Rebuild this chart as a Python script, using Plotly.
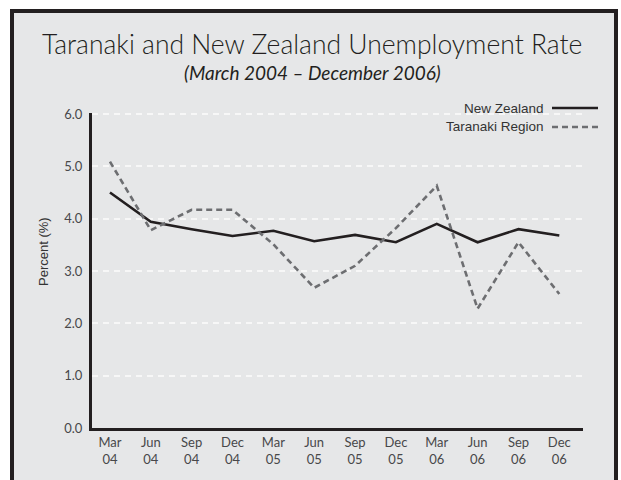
import plotly.graph_objects as go

categories = ["Mar<br>04", "Jun<br>04", "Sep<br>04", "Dec<br>04",
              "Mar<br>05", "Jun<br>05", "Sep<br>05", "Dec<br>05",
              "Mar<br>06", "Jun<br>06", "Sep<br>06", "Dec<br>06"]
new_zealand = [4.50, 3.94, 3.80, 3.67, 3.77, 3.57, 3.69, 3.55, 3.90, 3.55, 3.80, 3.68]
taranaki = [5.09, 3.78, 4.17, 4.17, 3.51, 2.68, 3.10, 3.82, 4.63, 2.28, 3.55, 2.56]
y_ticks = [0, 1, 2, 3, 4, 5, 6]
y_labels = ["0.0", "1.0", "2.0", "3.0", "4.0", "5.0", "6.0"]

x_idx = list(range(len(categories)))

DARK = "#231f20"
GREY = "#6d6e71"
TXT = "#48484a"
BG = "#e6e7e8"

# pixel helpers for layout (plot area 92..583 x, 113..428 y)
L, R, T, B = 92, 583, 113, 428
def px(x):
    return (x - L) / (R - L)
def py(y):
    return (B - y) / (B - T)

fig = go.Figure()
fig.add_trace(go.Scatter(x=x_idx, y=new_zealand, mode="lines", name="New Zealand",
                         line=dict(color=DARK, width=2.6), showlegend=False))
fig.add_trace(go.Scatter(x=x_idx, y=taranaki, mode="lines", name="Taranaki Region",
                         line=dict(color=GREY, width=2.6, dash="6px,4px"), showlegend=False))

shapes = [
    dict(type="rect", xref="paper", yref="paper", x0=px(12), x1=px(616), y0=py(490), y1=py(11),
         fillcolor=BG, line=dict(color=DARK, width=4), layer="below"),
    dict(type="line", xref="paper", yref="paper", x0=px(552), x1=px(598), y0=py(108), y1=py(108),
         line=dict(color=DARK, width=2.6)),
    dict(type="line", xref="paper", yref="paper", x0=px(552), x1=px(598), y0=py(127), y1=py(127),
         line=dict(color=GREY, width=2.6, dash="6px,4px")),
]

annotations = [
    dict(text="Taranaki and New Zealand Unemployment Rate", xref="paper", yref="paper",
         x=px(312), y=py(44), xanchor="center", yanchor="middle", showarrow=False,
         font=dict(family="Lato", size=26.5, color=DARK, weight=300)),
    dict(text="<i>(March 2004 – December 2006)</i>", xref="paper", yref="paper",
         x=px(312), y=py(72), xanchor="center", yanchor="middle", showarrow=False,
         font=dict(family="Lato", size=19, color=DARK)),
    dict(text="New Zealand", xref="paper", yref="paper", x=px(546), y=py(108),
         xanchor="right", yanchor="middle", showarrow=False,
         font=dict(family="Liberation Sans", size=13.5, color="#333333")),
    dict(text="Taranaki Region", xref="paper", yref="paper", x=px(546), y=py(127),
         xanchor="right", yanchor="middle", showarrow=False,
         font=dict(family="Liberation Sans", size=13.5, color="#333333")),
    dict(text="Percent (%)", xref="paper", yref="paper", x=px(43), y=py(252),
         xanchor="center", yanchor="middle", textangle=-90, showarrow=False,
         font=dict(family="Liberation Sans", size=13, color="#333333")),
]

fig.update_layout(
    width=621, height=480,
    margin=dict(l=L, r=621 - R, t=T, b=480 - B, pad=0),
    paper_bgcolor="white",
    plot_bgcolor="rgba(0,0,0,0)",
    shapes=shapes,
    annotations=annotations,
    xaxis=dict(range=[-0.44, 11.58], tickmode="array", tickvals=x_idx, ticktext=categories,
               showgrid=False, zeroline=False, showline=True, linecolor=DARK, linewidth=3,
               ticks="", tickfont=dict(family="Lato", size=13, color=TXT)),
    yaxis=dict(range=[0, 6.02], tickmode="array", tickvals=y_ticks, ticktext=y_labels,
               showgrid=True, gridcolor="#f7f7f7", gridwidth=1.5, griddash="6px,5px",
               zeroline=False, showline=True, linecolor=DARK, linewidth=3,
               ticks="", ticklabelstandoff=4,
               tickfont=dict(family="Lato", size=13, color=TXT)),
)

fig.write_html("out.html")
